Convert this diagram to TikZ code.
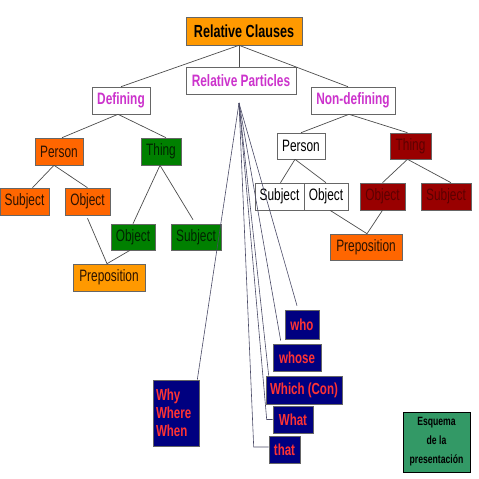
\documentclass[tikz,border=0pt]{standalone}
\usepackage{fontspec}
\setmainfont{Liberation Sans}[FakeStretch=0.72]
\usetikzlibrary{calc}
\definecolor{cOrange}{HTML}{FF9900}
\definecolor{cRedOr}{HTML}{FF6600}
\definecolor{cGreen}{HTML}{008000}
\definecolor{cDRed}{HTML}{990000}
\definecolor{cNavy}{HTML}{000080}
\definecolor{cRedTxt}{HTML}{FF3333}
\definecolor{cMag}{HTML}{CC33CC}
\definecolor{cSea}{HTML}{339966}
\definecolor{cDkTxt}{HTML}{2A1200}
\definecolor{cDRedTxt}{HTML}{5C0000}
\definecolor{cGrnTxt}{HTML}{002400}
\definecolor{cFan}{HTML}{4A4A66}
\begin{document}
\begin{tikzpicture}[x=1pt,y=-1pt,
  box/.style={draw=black!60, line width=0.6pt, inner sep=0pt, anchor=center,
    font=\fontsize{16.5}{18}\selectfont},
  titlebox/.style={box, fill=cOrange, text=black, font=\fontsize{17.5}{19}\selectfont\bfseries},
  magbox/.style={box, fill=white, text=cMag, font=\fontsize{16.5}{18}\selectfont\bfseries},
  orbox/.style={box, fill=cOrange, text=cDkTxt},
  robox/.style={box, fill=cRedOr, text=cDkTxt},
  grbox/.style={box, fill=cGreen, text=cGrnTxt},
  drbox/.style={box, fill=cDRed, text=cDRedTxt},
  whbox/.style={box, fill=white, text=black},
  nvbox/.style={box, fill=cNavy, text=cRedTxt, font=\fontsize{16}{18}\selectfont\bfseries},
  esqbox/.style={box, draw=black, fill=cSea, text=black, align=center,
    font=\fontsize{12}{19}\selectfont\bfseries},
  link/.style={draw=black!70, line width=0.7pt},
  fan/.style={draw=cFan, line width=0.6pt}
]
\useasboundingbox (0,0) rectangle (479,479);

% top level
\node[titlebox, minimum width=116pt, minimum height=28pt] (rc) at (244,31) {Relative Clauses};
\node[magbox, minimum width=110pt, minimum height=27pt] (rp) at (241,80.5) {Relative Particles};
\node[magbox, minimum width=58pt, minimum height=27pt] (def) at (121,100.5) {Defining};
\node[magbox, minimum width=84pt, minimum height=27pt] (nondef) at (353,100.5) {Non-defining};

% defining branch
\node[robox, minimum width=48pt, minimum height=27pt] (perL) at (59,151.5) {Person};
\node[grbox, minimum width=40pt, minimum height=27pt] (thingL) at (161,151.5) {Thing};
\node[robox, minimum width=49pt, minimum height=27pt] (subjL) at (24.5,201.5) {Subject};
\node[robox, minimum width=45pt, minimum height=27pt] (objL) at (87.5,201.5) {Object};
\node[grbox, minimum width=44pt, minimum height=26pt] (objG) at (133,237) {Object};
\node[grbox, minimum width=50pt, minimum height=26pt] (subjG) at (196,237) {Subject};
\node[orbox, minimum width=72pt, minimum height=27pt] (prepL) at (109,277.5) {Preposition};

% non-defining branch
\node[whbox, minimum width=48pt, minimum height=26pt] (perR) at (301,146) {Person};
\node[drbox, minimum width=41pt, minimum height=26pt] (thingR) at (410.5,146) {Thing};
\node[whbox, minimum width=49pt, minimum height=27pt] (subjR) at (279.5,196.5) {Subject};
\node[whbox, minimum width=44pt, minimum height=27pt] (objR) at (326,196.5) {Object};
\node[drbox, minimum width=45pt, minimum height=27pt] (objD) at (382.5,196.5) {Object};
\node[drbox, minimum width=50pt, minimum height=27pt] (subjD) at (446,196.5) {Subject};
\node[robox, minimum width=72pt, minimum height=26pt] (prepR) at (366,247) {Preposition};

% particles
\node[nvbox, minimum width=34pt, minimum height=29pt] (who) at (302,324.5) {who};
\node[nvbox, minimum width=48pt, minimum height=27pt] (whose) at (297,357.5) {whose};
\node[nvbox, minimum width=76pt, minimum height=28pt] (which) at (304,390) {Which (Con)};
\node[nvbox, minimum width=40pt, minimum height=27pt] (what) at (293,419.5) {What};
\node[nvbox, minimum width=31pt, minimum height=27pt] (that) at (284.5,449.5) {that};
\node[nvbox, minimum width=46pt, minimum height=66pt, align=left, text width=40pt,
      font=\fontsize{16}{18}\selectfont\bfseries] (why) at (176,413) {Why\\Where\\When};

\node[esqbox, minimum width=67pt, minimum height=60pt] (esq) at (436.5,442) {Esquema\\de la\\presentación};

% tree connectors
\draw[link] ([xshift=-5pt]rc.south) -- (def.north);
\draw[link] ([xshift=-5pt]rc.south) -- ([xshift=-5pt]nondef.north);
\draw[link] ([xshift=-5pt]rc.south) -- ([xshift=-2pt]rp.north);

\draw[link] ([xshift=-3pt]def.south) -- ([xshift=3pt]perL.north);
\draw[link] ([xshift=-3pt]def.south) -- ([xshift=5pt]thingL.north);
\draw[link] ([xshift=-5pt]perL.south) -- ([xshift=8pt]subjL.north);
\draw[link] ([xshift=-5pt]perL.south) -- (objL.north);
\draw[link] ([xshift=-1pt]thingL.south) -- (objG.north);
\draw[link] ([xshift=-1pt]thingL.south) -- ($(subjG.north)+(-3,-4)$);
\draw[link] ($(objL.south)+(0,3)$) -- ([xshift=-2pt]prepL.north);
\draw[link] ([xshift=-3pt]objG.south) -- ([xshift=-2pt]prepL.north);

\draw[link] ([xshift=-4pt]nondef.south) -- (perR.north);
\draw[link] ([xshift=-4pt]nondef.south) -- ([xshift=-3pt]thingR.north);
\draw[link] ([xshift=-6pt]perR.south) -- ([xshift=1pt]subjR.north);
\draw[link] ([xshift=-6pt]perR.south) -- (objR.north);
\draw[link] ([xshift=-3pt]thingR.south) -- (objD.north);
\draw[link] ([xshift=-3pt]thingR.south) -- ([xshift=5pt]subjD.north);
\draw[link] ([xshift=4pt]objR.south) -- ([xshift=1pt]prepR.north);
\draw[link] (objD.south) -- ([xshift=1pt]prepR.north);

% fan from relative particles
\coordinate (apex) at (239,103);
\draw[fan] (apex) -- ($(why.north east)+(-2,0)$);
\draw[fan] (apex) -- ($(who.north)+(-5,-4)$);
\draw[fan] (apex) -- ($(whose.north west)+(8,-3)$);
\draw[fan] (apex) -- ($(which.north west)+(3,0)$);
\draw[fan] (apex) -- ($(what.west)+(-6,0)$) -- (what.west);
\draw[fan] (apex) -- ($(that.west)+(-15,-2.5)$) -- ($(that.west)+(0,-2.5)$);
\end{tikzpicture}
\end{document}
